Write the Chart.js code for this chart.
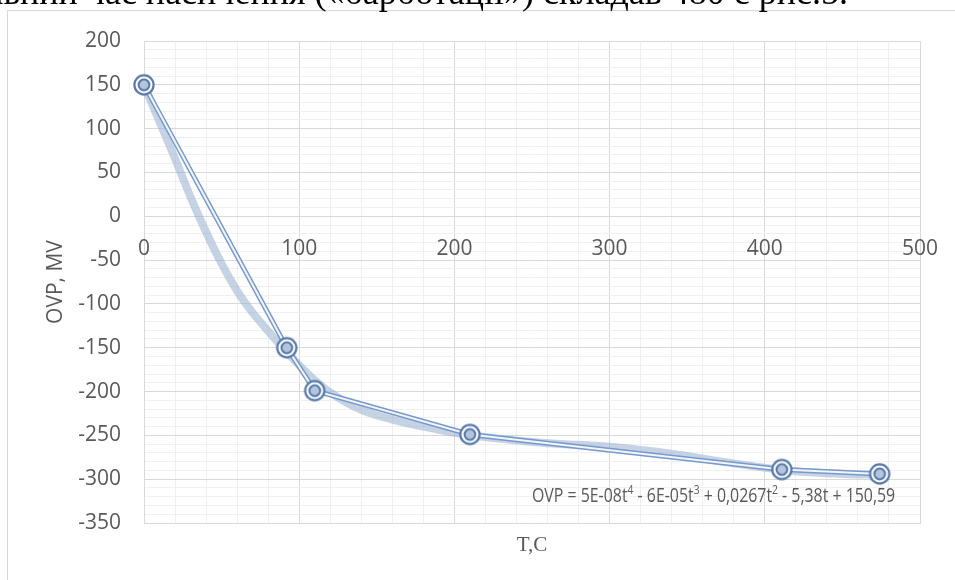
<!DOCTYPE html>
<html>
<head>
<meta charset="utf-8">
<script src="https://cdn.jsdelivr.net/npm/chart.js@4.4.1/dist/chart.umd.min.js"></script>
<style>
  html, body { margin: 0; padding: 0; background: #fff; overflow: hidden; }
  #wrap { position: relative; width: 955px; height: 580px; overflow: hidden; }
  #myChart { position: absolute; left: 0; top: 0; }
  #topText {
    position: absolute; right: 107px; top: -26px;
    font-family: "Liberation Serif", serif; font-size: 36px; line-height: 36px;
    white-space: nowrap; color: #000;
  }
</style>
</head>
<body>
<div id="wrap">
  <canvas id="myChart" width="955" height="580"></canvas>
  <div id="topText">Загальний час насичення («барботації») складав 480 с рис.5.</div>
</div>
<script>
// Measured points: temperature (x) and redox potential (y)
const tempC = [0, 92, 110, 210, 411, 474];
const ovpMV = [150, -150, -199, -249, -289, -294];

// Polynomial trendline
const trendT = [0, 10, 20, 30, 40, 50, 60, 70, 80, 90, 100, 110, 120, 140, 160, 180, 200, 230, 260, 300, 340, 380, 420, 450, 474];
const trendOVP = [150, 108, 66, 22, -18, -54, -85, -110, -131, -151, -170, -187, -201, -221, -232, -240, -247, -254, -259, -263, -271, -282, -291, -294, -295];

// Tick labels
const xTicks = [0, 100, 200, 300, 400, 500];
const yTicks = [200, 150, 100, 50, 0, -50, -100, -150, -200, -250, -300, -350];

// Trendline equation, [text, superscript]
const equation = [["OVP = 5E-08t", "4"], [" - 6E-05t", "3"], [" + 0,0267t", "2"], [" - 5,38t + 150,59", ""]];

const textColor = "#595959";
const lineBlue = "#7799cc";
const markBlue = "#5678ab";

Chart.defaults.font.family = "'Open Sans', sans-serif";
Chart.defaults.font.size = 21;
Chart.defaults.color = textColor;

// Double ring marker
function makeMarker() {
    const c = document.createElement("canvas");
    c.width = 26;
    c.height = 26;
    const g = c.getContext("2d");
    g.fillStyle = "#ffffff";
    g.beginPath();
    g.arc(13, 13, 10, 0, Math.PI * 2);
    g.fill();
    g.strokeStyle = markBlue;
    g.lineWidth = 2.2;
    g.beginPath();
    g.arc(13, 13, 9.6, 0, Math.PI * 2);
    g.stroke();
    g.fillStyle = "#b4c4dc";
    g.beginPath();
    g.arc(13, 13, 5.4, 0, Math.PI * 2);
    g.fill();
    g.lineWidth = 2;
    g.stroke();
    return c;
}

const points = tempC.map((t, i) => ({ x: t, y: ovpMV[i] }));
const trend = trendT.map((t, i) => ({ x: t, y: trendOVP[i] }));

// Frame, x labels on the zero line, equation
const extras = {
    id: "extras",
    beforeDatasetsDraw(chart) {
        const { ctx, scales: { x, y } } = chart;
        ctx.save();
        ctx.strokeStyle = "#d9d9d9";
        ctx.lineWidth = 1;
        ctx.strokeRect(7.5, 10.5, 2000, 2000);
        ctx.fillStyle = textColor;
        ctx.font = "21px 'Open Sans'";
        ctx.textAlign = "center";
        ctx.textBaseline = "middle";
        const y0 = y.getPixelForValue(0);
        xTicks.forEach(v => ctx.fillText(String(v), x.getPixelForValue(v), y0 + 33));
        ctx.restore();
    },
    afterDatasetsDraw(chart) {
        const { ctx, scales: { x, y } } = chart;
        ctx.save();
        ctx.fillStyle = textColor;
        ctx.textBaseline = "alphabetic";
        ctx.textAlign = "left";
        // full width first, then squeeze to the space Excel used
        let w = 0;
        equation.forEach(([base, sup]) => {
            ctx.font = "20px 'Open Sans'";
            w += ctx.measureText(base).width;
            ctx.font = "13px 'Open Sans'";
            w += ctx.measureText(sup).width;
        });
        const left = x.getPixelForValue(250);
        const target = x.getPixelForValue(484) - left;
        ctx.translate(left, y.getPixelForValue(-326));
        ctx.scale(target / w, 1);
        let px = 0;
        equation.forEach(([base, sup]) => {
            ctx.font = "20px 'Open Sans'";
            ctx.fillText(base, px, 0);
            px += ctx.measureText(base).width;
            if (sup) {
                ctx.font = "13px 'Open Sans'";
                ctx.fillText(sup, px, -8);
                px += ctx.measureText(sup).width;
            }
        });
        ctx.restore();
    }
};

const ctx = document.getElementById("myChart").getContext("2d");
const myChart = new Chart(ctx, {
    type: "scatter",
    data: {
        datasets: [
            {
                // markers on top
                data: points,
                showLine: false,
                pointStyle: makeMarker(),
                pointRadius: 10,
                clip: false,
                order: 0
            },
            {
                // white gap of the double line
                data: points,
                showLine: true,
                borderColor: "rgba(255,255,255,0.9)",
                borderWidth: 2,
                pointRadius: 0,
                order: 1
            },
            {
                data: points,
                showLine: true,
                borderColor: lineBlue,
                borderWidth: 5,
                pointRadius: 0,
                order: 2
            },
            {
                // polynomial trendline
                data: trend,
                showLine: true,
                borderColor: "rgba(150,175,208,0.55)",
                borderWidth: 8,
                cubicInterpolationMode: "monotone",
                pointRadius: 0,
                order: 3
            }
        ]
    },
    options: {
        responsive: false,
        animation: false,
        layout: { padding: { left: 20, right: 35, top: 41, bottom: 0 } },
        plugins: {
            legend: { display: false },
            tooltip: { enabled: false }
        },
        scales: {
            x: {
                type: "linear",
                min: 0,
                max: 500,
                border: { color: "#d9d9d9" },
                grid: {
                    drawTicks: false,
                    color: c => (Math.round(c.tick.value) % 100 === 0 ? "#d9d9d9" : "#f0f0f0")
                },
                ticks: { display: false, stepSize: 20, autoSkip: false },
                title: {
                    display: true,
                    text: "T,C",
                    font: { family: "'Liberation Serif'", size: 21 },
                    color: textColor,
                    padding: { top: 0, bottom: 22 }
                },
                afterFit: s => { s.height = 57; }
            },
            y: {
                min: -350,
                max: 200,
                border: { color: "#d9d9d9" },
                grid: {
                    drawTicks: false,
                    color: c => (Math.round(c.tick.value) % 50 === 0 ? "#d9d9d9" : "#f0f0f0")
                },
                ticks: {
                    stepSize: 10,
                    autoSkip: false,
                    padding: 23,
                    callback: v => (yTicks.includes(Math.round(v)) ? String(Math.round(v)) : "")
                },
                title: {
                    display: true,
                    text: "OVP, MV",
                    padding: { top: 23, bottom: 0 }
                },
                afterFit: s => { s.width = 124; }
            }
        }
    },
    plugins: [extras]
});
</script>
</body>
</html>
